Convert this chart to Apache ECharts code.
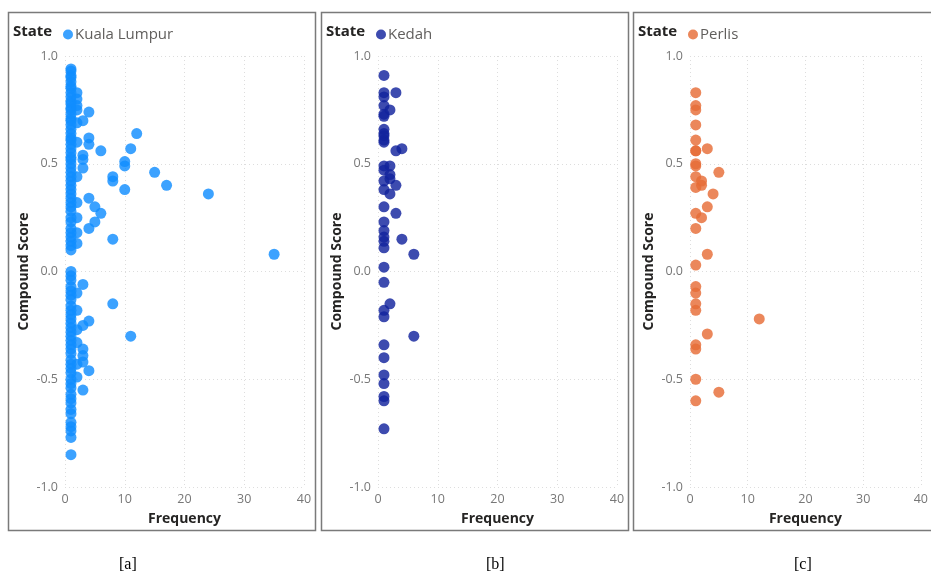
<!DOCTYPE html>
<html>
<head>
<meta charset="utf-8">
<script src="https://cdn.jsdelivr.net/npm/echarts@6/dist/echarts.min.js"></script>
<style>
  html, body { margin: 0; padding: 0; background: #fff; }
  #chart { width: 931px; height: 576px; }
</style>
</head>
<body>
<div id="chart"></div>
<script>
// estados y colores
var states = ['Kuala Lumpur', 'Kedah', 'Perlis'];
var stateColors = ['#118DFF', '#12239E', '#E66C37'];
var captions = ['[a]', '[b]', '[c]'];

// [frecuencia, compound score]
var kualaLumpur = [
    [1, 0.94], [1, 0.93], [1, 0.91], [1, 0.9], [1, 0.88], [1, 0.86], [1, 0.85], [1, 0.83], [1, 0.81],
    [1, 0.79], [1, 0.78], [1, 0.76], [1, 0.75], [1, 0.73], [1, 0.71], [1, 0.7], [1, 0.68], [1, 0.66],
    [1, 0.64], [1, 0.62], [1, 0.61], [1, 0.59], [1, 0.57], [1, 0.55], [1, 0.53], [1, 0.52], [1, 0.5],
    [1, 0.48], [1, 0.46], [1, 0.44], [1, 0.42], [1, 0.4], [1, 0.38], [1, 0.36], [1, 0.34], [1, 0.32],
    [1, 0.3], [1, 0.28], [1, 0.25], [1, 0.23], [1, 0.2], [1, 0.18], [1, 0.16], [1, 0.14], [1, 0.12], [1, 0.1],
    [1, 0.0], [1, -0.02], [1, -0.04], [1, -0.07], [1, -0.09], [1, -0.11], [1, -0.13], [1, -0.16], [1, -0.18],
    [1, -0.2], [1, -0.22], [1, -0.24], [1, -0.26], [1, -0.28], [1, -0.3], [1, -0.32], [1, -0.34], [1, -0.36],
    [1, -0.38], [1, -0.41], [1, -0.43], [1, -0.45], [1, -0.47], [1, -0.5], [1, -0.52], [1, -0.54], [1, -0.57],
    [1, -0.59], [1, -0.61], [1, -0.64], [1, -0.66], [1, -0.7], [1, -0.72], [1, -0.74], [1, -0.77], [1, -0.85],
    [2, 0.83], [2, 0.8], [2, 0.77], [2, 0.75], [4, 0.74], [3, 0.7], [2, 0.69], [12, 0.64], [4, 0.62],
    [2, 0.6], [4, 0.59], [6, 0.56], [11, 0.57], [3, 0.54], [3, 0.52], [10, 0.51], [10, 0.49], [3, 0.48],
    [2, 0.44], [8, 0.44], [8, 0.42], [15, 0.46], [17, 0.4], [10, 0.38], [24, 0.36], [4, 0.34], [2, 0.32],
    [5, 0.3], [6, 0.27], [2, 0.25], [5, 0.23], [4, 0.2], [2, 0.18], [8, 0.15], [2, 0.13], [35, 0.08],
    [3, -0.06], [2, -0.1], [8, -0.15], [2, -0.18], [4, -0.23], [3, -0.25], [2, -0.27], [11, -0.3],
    [2, -0.33], [3, -0.36], [3, -0.39], [3, -0.42], [2, -0.43], [4, -0.46], [2, -0.49], [3, -0.55]
];

var kedah = [
    [1, 0.91], [1, 0.83], [3, 0.83], [1, 0.81], [1, 0.77], [2, 0.75], [1, 0.73], [1, 0.72],
    [1, 0.66], [1, 0.64], [1, 0.63], [1, 0.61], [1, 0.6], [3, 0.56], [4, 0.57], [1, 0.49], [2, 0.49],
    [1, 0.47], [2, 0.45], [2, 0.43], [1, 0.42], [3, 0.4], [1, 0.38], [2, 0.36], [1, 0.3], [3, 0.27],
    [1, 0.23], [1, 0.19], [1, 0.16], [1, 0.14], [4, 0.15], [1, 0.11], [6, 0.08], [1, 0.02], [1, -0.05],
    [2, -0.15], [1, -0.18], [1, -0.21], [6, -0.3], [1, -0.34], [1, -0.4], [1, -0.48], [1, -0.52],
    [1, -0.58], [1, -0.6], [1, -0.73]
];

var perlis = [
    [1, 0.83], [1, 0.77], [1, 0.75], [1, 0.68], [1, 0.61], [1, 0.56], [1, 0.56], [3, 0.57],
    [1, 0.5], [1, 0.49], [5, 0.46], [1, 0.44], [2, 0.42], [2, 0.4], [1, 0.39], [4, 0.36], [3, 0.3],
    [1, 0.27], [2, 0.25], [1, 0.2], [3, 0.08], [1, 0.03], [1, -0.07], [1, -0.1], [1, -0.15],
    [1, -0.18], [12, -0.22], [3, -0.29], [1, -0.34], [1, -0.36], [1, -0.5], [5, -0.56], [1, -0.6]
];

var seriesData = [kualaLumpur, kedah, perlis];

// ticks de los ejes
var xTicks = [0, 10, 20, 30, 40];
var yTicks = [-1.0, -0.5, 0.0, 0.5, 1.0];

var chart = echarts.init(document.getElementById('chart'));

var panelLeft = [8, 321, 633];
var panelWidth = 307;
var gridLeft = [65, 378, 690];
var captionX = [128, 495, 803];

var grids = [], xAxes = [], yAxes = [], series = [], legends = [], graphics = [];

states.forEach(function (state, i) {
    grids.push({ left: gridLeft[i], top: 56, width: 239, height: 431 });

    xAxes.push({
        gridIndex: i, type: 'value',
        min: xTicks[0], max: xTicks[xTicks.length - 1], interval: 10,
        name: 'Frequency', nameLocation: 'middle', nameGap: 25,
        nameTextStyle: { fontFamily: 'Open Sans', fontWeight: 'bold', fontSize: 14, color: '#252423' },
        axisLine: { show: false }, axisTick: { show: false },
        axisLabel: { color: '#777', fontFamily: 'Open Sans', fontSize: 12.5, margin: 6 },
        splitLine: { show: true, lineStyle: { color: '#ddd', type: [1, 3] } }
    });

    yAxes.push({
        gridIndex: i, type: 'value',
        min: yTicks[0], max: yTicks[yTicks.length - 1], interval: 0.5,
        name: 'Compound Score', nameLocation: 'middle', nameGap: 34,
        nameTextStyle: { fontFamily: 'Open Sans', fontWeight: 'bold', fontSize: 14, color: '#252423' },
        axisLine: { show: false }, axisTick: { show: false },
        axisLabel: {
            color: '#777', fontFamily: 'Open Sans', fontSize: 12.5, margin: 7,
            formatter: function (v) { return v.toFixed(1); }
        },
        splitLine: { show: true, lineStyle: { color: '#ddd', type: [1, 3] } }
    });

    series.push({
        name: state, type: 'scatter',
        xAxisIndex: i, yAxisIndex: i,
        symbolSize: 11,
        itemStyle: { color: stateColors[i], opacity: 0.82 },
        data: seriesData[i]
    });

    legends.push({
        data: [state], left: panelLeft[i] + 50, top: 22,
        icon: 'circle', itemWidth: 10, itemHeight: 10, itemGap: 4,
        textStyle: { fontFamily: 'Open Sans', fontSize: 15, color: '#605E5C', padding: [0, 0, 0, -3] }
    });

    // marco del panel
    graphics.push({
        type: 'rect',
        shape: { x: panelLeft[i] + 0.5, y: 12.5, width: panelWidth, height: 518 },
        style: { fill: 'none', stroke: '#7a7a7a', lineWidth: 1.5 }
    });
    graphics.push({
        type: 'text', left: panelLeft[i] + 5, top: 24,
        style: { text: 'State', font: 'bold 15px "Open Sans"', fill: '#252423' }
    });
    graphics.push({
        type: 'text', left: captionX[i] - 9, top: 557,
        style: { text: captions[i], font: '16px "Liberation Serif"', fill: '#000' }
    });
});

chart.setOption({
    animation: false,
    grid: grids,
    xAxis: xAxes,
    yAxis: yAxes,
    legend: legends,
    graphic: graphics,
    series: series
});
</script>
</body>
</html>
